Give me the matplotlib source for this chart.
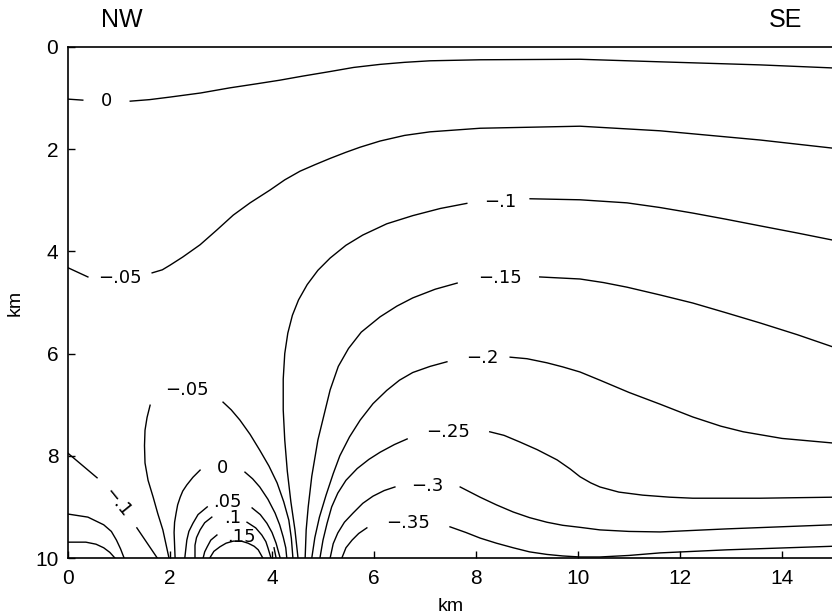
import matplotlib
matplotlib.use("Agg")
import matplotlib.pyplot as plt

plt.rcParams['font.family'] = ['Liberation Sans', 'DejaVu Sans']

# contour lines, x (km) and depth z (km)
# each line is split where its label sits

# 0 contour near the top
zero_top_a_x = [0.0, 0.29]
zero_top_a_z = [1.02, 1.04]
zero_top_b_x = [1.22, 1.6, 2.0, 2.6, 3.17, 3.7, 4.15, 4.6, 5.14, 5.6, 6.12, 6.6, 7.10,
                8.08, 9.06, 10.04, 11.61, 13.57, 15.0]
zero_top_b_z = [1.06, 1.03, 0.98, 0.90, 0.80, 0.72, 0.65, 0.57, 0.48, 0.40, 0.34, 0.30, 0.27,
                0.25, 0.245, 0.24, 0.29, 0.35, 0.41]

# -.05 contour, upper one
m05_top_a_x = [0.0, 0.39]
m05_top_a_z = [4.32, 4.50]
m05_top_b_x = [1.65, 1.85, 2.0, 2.25, 2.59, 2.92, 3.24, 3.57, 3.96, 4.25, 4.55, 4.85, 5.14,
               5.45, 5.73, 6.12, 6.6, 7.10, 8.08, 9.06, 10.04, 11.61, 13.57, 15.0]
m05_top_b_z = [4.42, 4.36, 4.27, 4.11, 3.87, 3.58, 3.29, 3.05, 2.80, 2.60, 2.43, 2.30, 2.18,
               2.06, 1.96, 1.84, 1.73, 1.66, 1.59, 1.57, 1.55, 1.64, 1.82, 1.98]

# -.1 contour, main one
m10_a_x = [4.51, 4.45, 4.37, 4.30, 4.25, 4.22, 4.22, 4.25, 4.31, 4.40, 4.52, 4.69, 4.90,
           5.14, 5.45, 5.78, 6.25, 6.76, 7.30, 7.82]
m10_a_z = [10.0, 9.45, 8.90, 8.30, 7.69, 7.10, 6.50, 6.00, 5.60, 5.25, 4.95, 4.65, 4.37,
           4.13, 3.88, 3.68, 3.46, 3.30, 3.16, 3.06]
m10_b_x = [9.06, 10.04, 10.96, 11.6, 12.25, 12.9, 13.57, 14.3, 15.0]
m10_b_z = [2.97, 2.99, 3.05, 3.14, 3.25, 3.37, 3.50, 3.64, 3.78]

# -.15
m15_a_x = [4.65, 4.67, 4.71, 4.78, 4.90, 5.02, 5.14, 5.30, 5.50, 5.75, 6.12, 6.45, 6.76,
           7.20, 7.63]
m15_a_z = [10.0, 9.45, 9.00, 8.40, 7.69, 7.20, 6.71, 6.25, 5.90, 5.58, 5.28, 5.07, 4.91,
           4.74, 4.62]
m15_b_x = [9.25, 10.04, 10.5, 10.96, 11.6, 12.25, 12.9, 13.57, 14.3, 15.0]
m15_b_z = [4.50, 4.54, 4.61, 4.70, 4.85, 5.01, 5.20, 5.40, 5.63, 5.87]

# -.2
m20_a_x = [4.78, 4.84, 4.93, 5.06, 5.20, 5.33, 5.52, 5.73, 5.98, 6.25, 6.50, 6.76, 7.10, 7.43]
m20_a_z = [10.0, 9.60, 9.20, 8.77, 8.35, 8.00, 7.63, 7.30, 6.98, 6.72, 6.52, 6.37, 6.25, 6.16]
m20_b_x = [8.67, 9.0, 9.39, 9.70, 10.04, 10.43, 11.0, 11.61, 12.25, 12.8, 13.24, 14.0, 15.0]
m20_b_z = [6.07, 6.10, 6.18, 6.26, 6.36, 6.52, 6.76, 6.99, 7.24, 7.42, 7.53, 7.66, 7.75]

# -.25
m25_a_x = [4.94, 5.00, 5.08, 5.17, 5.29, 5.45, 5.67, 5.90, 6.12, 6.40, 6.65]
m25_a_z = [10.0, 9.65, 9.32, 9.00, 8.73, 8.48, 8.25, 8.07, 7.93, 7.78, 7.67]
m25_b_x = [8.27, 8.55, 8.86, 9.2, 9.59, 9.85, 10.04, 10.25, 10.43, 10.8, 11.27, 11.8,
           12.25, 13.57, 15.0]
m25_b_z = [7.53, 7.60, 7.73, 7.88, 8.08, 8.26, 8.41, 8.53, 8.61, 8.71, 8.77, 8.81,
           8.83, 8.83, 8.81]

# -.3
m30_a_x = [5.14, 5.20, 5.29, 5.42, 5.59, 5.78, 5.98, 6.20, 6.41]
m30_a_z = [10.0, 9.72, 9.51, 9.30, 9.12, 8.93, 8.79, 8.68, 8.61]
m30_b_x = [7.69, 8.08, 8.40, 8.73, 9.05, 9.39, 9.70, 10.04, 10.43, 11.0, 11.61, 12.92, 15.0]
m30_b_z = [8.61, 8.81, 8.96, 9.10, 9.21, 9.30, 9.36, 9.40, 9.45, 9.48, 9.49, 9.43, 9.35]

# -.35
m35_a_x = [5.37, 5.45, 5.57, 5.70, 5.86]
m35_a_z = [10.0, 9.80, 9.65, 9.52, 9.41]
m35_b_x = [7.49, 7.80, 8.08, 8.40, 8.73, 9.05, 9.39, 9.70, 10.04, 10.43, 11.0, 11.61,
           12.92, 15.0]
m35_b_z = [9.39, 9.50, 9.61, 9.71, 9.80, 9.88, 9.93, 9.96, 9.98, 9.98, 9.95, 9.90,
           9.84, 9.77]

# -.05 arch at the bottom left
m05_low_a_x = [1.61, 1.55, 1.51, 1.50, 1.51, 1.57, 1.67, 1.76, 1.86, 1.98]
m05_low_a_z = [7.01, 7.25, 7.50, 7.80, 8.14, 8.48, 8.81, 9.13, 9.45, 10.0]
m05_low_b_x = [3.04, 3.20, 3.37, 3.57, 3.76, 3.94, 4.10, 4.23, 4.33, 4.38, 4.41]
m05_low_b_z = [6.95, 7.10, 7.30, 7.58, 7.89, 8.20, 8.53, 8.90, 9.26, 9.62, 10.0]

# 0 arch
zero_low_a_x = [2.59, 2.45, 2.33, 2.25, 2.20, 2.15, 2.12, 2.09, 2.08, 2.10]
zero_low_a_z = [8.28, 8.42, 8.57, 8.69, 8.81, 8.96, 9.12, 9.30, 9.50, 10.0]
zero_low_b_x = [3.47, 3.62, 3.76, 3.92, 4.06, 4.15, 4.22, 4.27, 4.29]
zero_low_b_z = [8.32, 8.45, 8.61, 8.85, 9.12, 9.35, 9.59, 9.80, 10.0]

# .05 arch
p05_a_x = [2.73, 2.55, 2.45, 2.37, 2.33, 2.29]
p05_a_z = [9.00, 9.15, 9.32, 9.48, 9.65, 10.0]
p05_b_x = [3.61, 3.77, 3.90, 4.00, 4.08, 4.16]
p05_b_z = [9.02, 9.15, 9.32, 9.50, 9.71, 10.0]

# .1 arch
p10_a_x = [2.82, 2.68, 2.59, 2.52, 2.49, 2.49]
p10_a_z = [9.20, 9.31, 9.45, 9.60, 9.75, 10.0]
p10_b_x = [3.51, 3.68, 3.80, 3.88, 3.92, 3.98]
p10_b_z = [9.30, 9.41, 9.55, 9.68, 9.80, 10.0]

# .15 and the small dome under it
p15_a_x = [2.92, 2.80, 2.73, 2.68, 2.65]
p15_a_z = [9.55, 9.65, 9.78, 9.88, 10.0]
dome_x = [2.78, 2.86, 2.98, 3.10, 3.24, 3.40, 3.53, 3.65, 3.73, 3.82]
dome_z = [10.0, 9.87, 9.78, 9.71, 9.67, 9.67, 9.71, 9.77, 9.84, 10.0]
stub_x = [4.04, 4.08]
stub_z = [9.80, 10.0]

# -.1 and two more lines in the bottom left corner
m10_corner_a_x = [0.0, 0.57]
m10_corner_a_z = [7.95, 8.43]
m10_corner_b_x = [1.35, 1.75]
m10_corner_b_z = [9.41, 10.0]
corner_outer_x = [0.0, 0.39, 0.70, 0.85, 0.95, 1.03, 1.10]
corner_outer_z = [9.14, 9.20, 9.35, 9.48, 9.65, 9.82, 10.0]
corner_inner_x = [0.0, 0.35, 0.55, 0.70, 0.82, 0.92]
corner_inner_z = [9.69, 9.69, 9.73, 9.80, 9.89, 10.0]

lines = [
    (zero_top_a_x, zero_top_a_z), (zero_top_b_x, zero_top_b_z),
    (m05_top_a_x, m05_top_a_z), (m05_top_b_x, m05_top_b_z),
    (m10_a_x, m10_a_z), (m10_b_x, m10_b_z),
    (m15_a_x, m15_a_z), (m15_b_x, m15_b_z),
    (m20_a_x, m20_a_z), (m20_b_x, m20_b_z),
    (m25_a_x, m25_a_z), (m25_b_x, m25_b_z),
    (m30_a_x, m30_a_z), (m30_b_x, m30_b_z),
    (m35_a_x, m35_a_z), (m35_b_x, m35_b_z),
    (m05_low_a_x, m05_low_a_z), (m05_low_b_x, m05_low_b_z),
    (zero_low_a_x, zero_low_a_z), (zero_low_b_x, zero_low_b_z),
    (p05_a_x, p05_a_z), (p05_b_x, p05_b_z),
    (p10_a_x, p10_a_z), (p10_b_x, p10_b_z),
    (p15_a_x, p15_a_z), (dome_x, dome_z), (stub_x, stub_z),
    (m10_corner_a_x, m10_corner_a_z), (m10_corner_b_x, m10_corner_b_z),
    (corner_outer_x, corner_outer_z), (corner_inner_x, corner_inner_z),
]

# contour labels: text, x, z, rotation
label_text = ['0', '\u2212.05', '\u2212.1', '\u2212.15', '\u2212.2', '\u2212.25', '\u2212.3',
              '\u2212.35', '\u2212.05', '0', '.05', '.1', '.15', '\u2212.1']
label_x = [0.76, 1.02, 8.47, 8.47, 8.12, 7.45, 7.04, 6.67, 2.33, 3.02, 3.12, 3.22, 3.41, 0.96]
label_z = [1.06, 4.52, 3.03, 4.52, 6.09, 7.53, 8.59, 9.32, 6.71, 8.24, 8.90, 9.22, 9.59, 8.92]
label_rot = [0, 0, 0, 0, 0, 0, 0, 0, 0, 0, 0, 0, 0, -51]

fig = plt.figure(figsize=(8.32, 6.14), dpi=100)
ax = fig.add_axes([68 / 832, 1 - 558 / 614, 765 / 832, 511 / 614])

for xs, zs in lines:
    ax.plot(xs, zs, color='black', lw=1.0, solid_joinstyle='round')

for t, x, z, r in zip(label_text, label_x, label_z, label_rot):
    ax.text(x, z, t, ha='center', va='center', fontsize=13, rotation=r,
            family=['DejaVu Sans'])

ax.set_xlim(0, 15)
ax.set_ylim(10, 0)
ax.set_xticks(range(0, 15, 2))
ax.set_yticks(range(0, 11, 2))
ax.tick_params(direction='in', length=5, width=1, labelsize=15)
ax.tick_params(axis='x', pad=8)
ax.tick_params(axis='y', pad=7)
ax.spines['right'].set_visible(False)
for s in ['left', 'bottom', 'top']:
    ax.spines[s].set_linewidth(1.2)

ax.set_xlabel('km', fontsize=14, labelpad=7)
ax.set_ylabel('km', fontsize=14, labelpad=8)

fig.text(122 / 832, 1 - 20 / 614, 'NW', ha='center', va='center', fontsize=18)
fig.text(785 / 832, 1 - 20 / 614, 'SE', ha='center', va='center', fontsize=18)

fig.savefig('out.png', dpi=100)
